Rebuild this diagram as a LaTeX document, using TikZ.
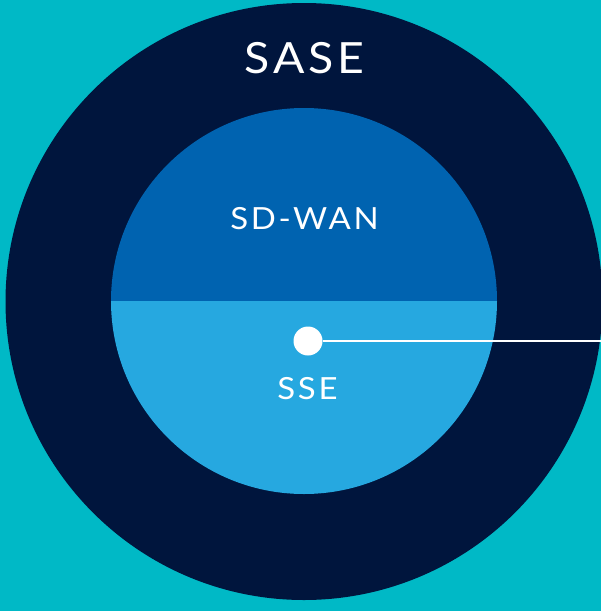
\documentclass[tikz,border=0pt]{standalone}
\usepackage{fontspec}
\setmainfont{Lato}[FakeStretch=1.08, LetterSpace=9]
\definecolor{bgteal}{RGB}{0,185,198}
\definecolor{navy}{RGB}{0,21,61}
\definecolor{wanblue}{RGB}{0,99,176}
\definecolor{sseblue}{RGB}{38,168,224}
\tikzset{
  lbl/.style={text=white, inner sep=0pt},
  dot/.style={circle, fill=white, minimum size=29pt, inner sep=0pt}
}
\begin{document}
\begin{tikzpicture}[x=1pt,y=-1pt]
\fill[bgteal] (0,0) rectangle (601,611);
\useasboundingbox (0,0) rectangle (601,611);
\coordinate (O) at (304,301.5);
\coordinate (C) at (304,301);
% outer ring and the two halves
\fill[navy] (O) circle (298.5);
\fill[wanblue] (C) ++(-193,0) arc (180:360:193) -- cycle;
\fill[sseblue] (C) ++(-193,0) arc (180:0:193) -- cycle;
% labels
\node[lbl, font=\fontsize{43}{43}\selectfont] (sase) at (304.5,58.5) {SASE};
\node[lbl, font=\fontsize{30.5}{30.5}\selectfont] (sdwan) at (304.5,218.7) {SD-WAN};
\node[lbl, font=\fontsize{30.5}{30.5}\selectfont] (sse) at (307.5,389) {SSE};
% pin and leader
\node[dot] (pin) at (308,341) {};
\coordinate (tip) at (601,341);
\draw[white, line width=1.2pt] (pin) -- (tip);
\end{tikzpicture}
\end{document}
